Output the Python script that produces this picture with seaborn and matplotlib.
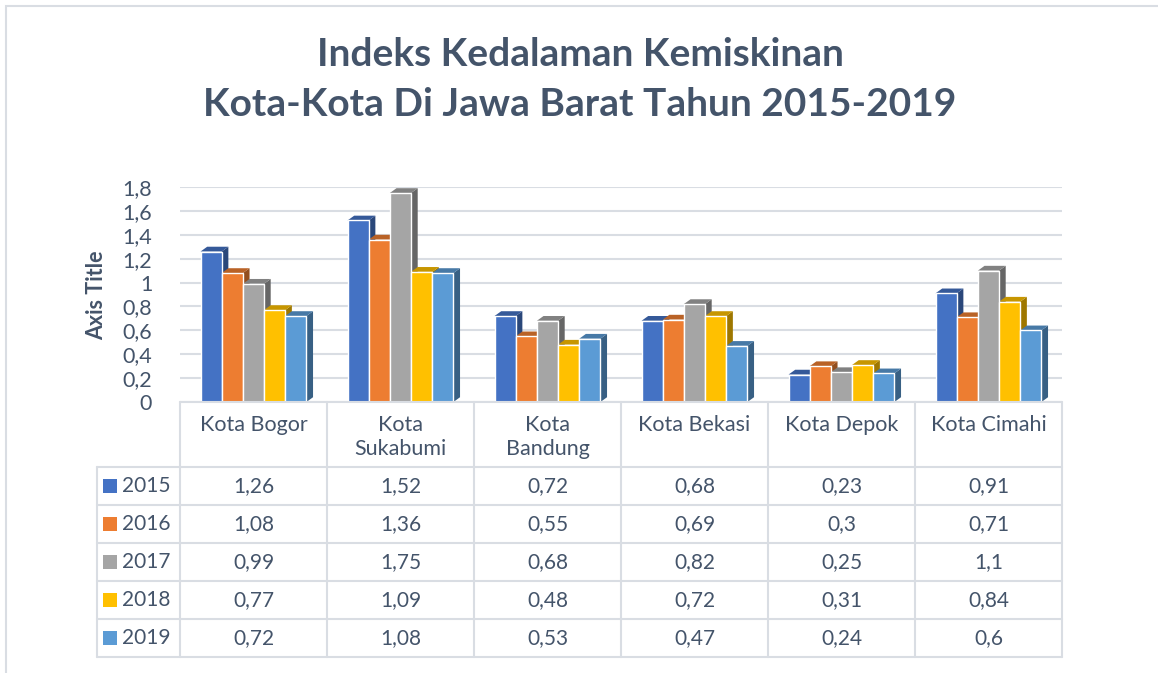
import numpy as np
import pandas as pd
import matplotlib.pyplot as plt
import matplotlib.colors as mcolors
from matplotlib.patches import Polygon, Rectangle
from matplotlib.ticker import FuncFormatter
import seaborn as sns

cities = ['Kota Bogor', 'Kota Sukabumi', 'Kota Bandung', 'Kota Bekasi', 'Kota Depok', 'Kota Cimahi']
city_labels = ['Kota Bogor', 'Kota\nSukabumi', 'Kota\nBandung', 'Kota Bekasi', 'Kota Depok', 'Kota Cimahi']
years = ['2015', '2016', '2017', '2018', '2019']
v2015 = [1.26, 1.52, 0.72, 0.68, 0.23, 0.91]
v2016 = [1.08, 1.36, 0.55, 0.69, 0.30, 0.71]
v2017 = [0.99, 1.75, 0.68, 0.82, 0.25, 1.10]
v2018 = [0.77, 1.09, 0.48, 0.72, 0.31, 0.84]
v2019 = [0.72, 1.08, 0.53, 0.47, 0.24, 0.60]
colors = ['#4472c4', '#ed7d31', '#a5a5a5', '#ffc000', '#5b9bd5']

values = {'2015': v2015, '2016': v2016, '2017': v2017, '2018': v2018, '2019': v2019}
df = pd.DataFrame([(c, y, values[y][i]) for y in years for i, c in enumerate(cities)],
                  columns=['city', 'year', 'value'])

W, H = 1158, 673
txt = '#44546a'
grid = '#d9dde3'

sns.set_style('white')
plt.rcParams['font.family'] = ['Lato', 'DejaVu Sans']

fig = plt.figure(figsize=(W / 100, H / 100), dpi=100)

def fx(px):
    return px / W

def fy(py):
    return 1 - py / H

# bar chart
ax = fig.add_axes([fx(180), fy(402), fx(1062) - fx(180), fy(187) - fy(402)])
sns.barplot(data=df, x='city', y='value', hue='year', palette=colors, width=0.72,
            saturation=1, legend=False, ax=ax, zorder=3)
ax.set_xlim(-0.5, 5.5)
ax.set_ylim(0, 1.8)
ax.set_yticks(np.arange(0, 1.81, 0.2))
ax.yaxis.set_major_formatter(FuncFormatter(lambda v, p: f'{v:.1f}'.rstrip('0').rstrip('.').replace('.', ',')))
ax.tick_params(axis='y', labelsize=15.5, labelcolor=txt, length=0, pad=20)
ax.set_xticks([])
ax.set_xlabel('')
ax.set_ylabel('')
ax.grid(axis='y', color=grid, lw=1.5, zorder=0)
for s in ax.spines.values():
    s.set_visible(False)

# pseudo 3D faces
dx, dy = 0.045, 0.04
for p in list(ax.patches):
    x0, w, h = p.get_x(), p.get_width(), p.get_height()
    base = np.array(mcolors.to_rgb(p.get_facecolor()))
    side = Polygon([(x0 + w, 0), (x0 + w + dx, dy), (x0 + w + dx, h + dy), (x0 + w, h)],
                   closed=True, fc=base * 0.62, ec='none', zorder=2.9, clip_on=False)
    top = Polygon([(x0, h), (x0 + dx, h + dy), (x0 + w + dx, h + dy), (x0 + w, h)],
                  closed=True, fc=base * 0.78, ec='none', zorder=2.9, clip_on=False)
    ax.add_patch(side)
    ax.add_patch(top)

# data table
tx0 = -0.5 - 83 / 147
tax = fig.add_axes([fx(97), fy(657), fx(1062) - fx(97), fy(402) - fy(657)])
tax.set_xlim(tx0, 5.5)
tax.set_ylim(255, 0)
tax.axis('off')
row_top = [65, 103, 141, 179, 217]
row_h = 38
lw = 1.5
tax.plot([-0.5, 5.5], [0, 0], color=grid, lw=lw, clip_on=False)
for i in range(7):
    xb = -0.5 + i
    tax.plot([xb, xb], [0, 255], color=grid, lw=lw, clip_on=False)
tax.plot([tx0, tx0], [65, 255], color=grid, lw=lw, clip_on=False)
for r in row_top + [255]:
    tax.plot([tx0, 5.5], [r, r], color=grid, lw=lw, clip_on=False)
for i, lab in enumerate(city_labels):
    tax.text(i, 13, lab, ha='center', va='top', fontsize=15.5, color=txt, linespacing=1.25)
for j, y in enumerate(years):
    yc = row_top[j] + row_h / 2
    tax.add_patch(Rectangle((tx0 + 6 / 147, yc - 7), 14 / 147, 14, fc=colors[j], ec='none', clip_on=False))
    tax.text(tx0 + 25 / 147, yc, y, ha='left', va='center', fontsize=15, color=txt)
    for i in range(len(cities)):
        tax.text(i, yc, f'{values[y][i]:g}'.replace('.', ','), ha='center', va='center',
                 fontsize=15, color=txt)

# titles and border
fig.text(0.501, fy(55), 'Indeks Kedalaman Kemiskinan', ha='center', va='center',
         fontsize=28, fontweight='bold', color=txt)
fig.text(0.501, fy(105), 'Kota-Kota Di Jawa Barat Tahun 2015-2019', ha='center', va='center',
         fontsize=28, fontweight='bold', color=txt)
fig.text(fx(97), fy(295), 'Axis Title', rotation=90, ha='center', va='center',
         fontsize=15.5, fontweight='bold', color=txt)
fig.add_artist(Rectangle((fx(6), fy(700)), 1.2, fy(6) - fy(700), transform=fig.transFigure,
                         fill=False, ec=grid, lw=1.5))

fig.savefig('out.png', dpi=100)
